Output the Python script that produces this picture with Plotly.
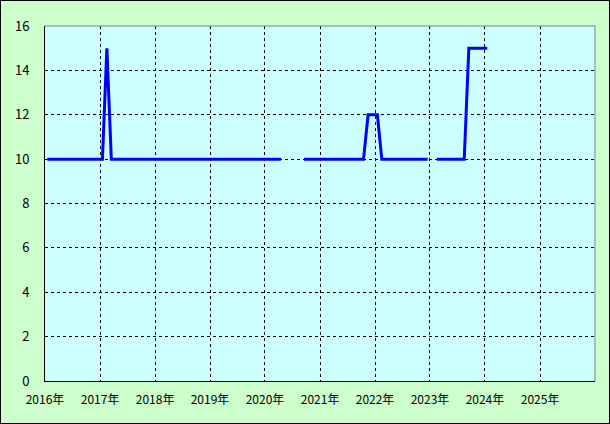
import pandas as pd
import plotly.graph_objects as go

# Monthly observations, Jan 2016 .. Jan 2024
months = pd.date_range("2016-01-01", "2024-01-01", freq="MS")
rate = [
    10, 10, 10, 10, 10, 10, 10, 10, 10, 10, 10, 10,          # 2016
    10, 15, 10, 10, 10, 10, 10, 10, 10, 10, 10, 10,          # 2017
    10, 10, 10, 10, 10, 10, 10, 10, 10, 10, 10, 10,          # 2018
    10, 10, 10, 10, 10, 10, 10, 10, 10, 10, 10, 10,          # 2019
    10, 10, 10, 10, None, None, None, None, 10, 10, 10, 10,  # 2020
    10, 10, 10, 10, 10, 10, 10, 10, 10, 10, 12, 12,          # 2021
    12, 10, 10, 10, 10, 10, 10, 10, 10, 10, 10, 10,          # 2022
    None, 10, 10, 10, 10, 10, 10, 10, 15, 15, 15, 15,        # 2023
    15,                                                      # 2024
]

years = list(range(2016, 2026))
year_ticks = [f"{y}-01-01" for y in years]
year_labels = [f"{y}年" for y in years]
y_ticks = [0, 2, 4, 6, 8, 10, 12, 14, 16]

W, H = 610, 424
ml, mr, mt, mb = 45, 15, 26, 43
pw, ph = W - ml - mr, H - mt - mb

fig = go.Figure()
fig.add_trace(go.Scatter(
    x=months, y=rate, mode="lines",
    xperiod="M1", xperiodalignment="middle",
    line=dict(color="#0000ff", width=3),
    connectgaps=False, hoverinfo="skip",
))

font = dict(family="Noto Sans CJK JP, DejaVu Sans, sans-serif", size=12, color="#000000")

fig.update_layout(
    width=W, height=H,
    margin=dict(l=ml, r=mr, t=mt, b=mb),
    paper_bgcolor="#ccffcc",
    plot_bgcolor="#ccffff",
    showlegend=False,
    font=font,
    xaxis=dict(
        type="date",
        range=["2016-01-01", "2026-01-01"],
        tickmode="array", tickvals=year_ticks, ticktext=year_labels,
        showgrid=True, gridcolor="#000000", gridwidth=1, griddash="3px,3px",
        showline=True, linecolor="#000000", linewidth=1,
        ticks="", ticklabelstandoff=8, zeroline=False,
        tickfont=font,
    ),
    yaxis=dict(
        range=[0, 16],
        tickmode="array", tickvals=y_ticks,
        showgrid=True, gridcolor="#000000", gridwidth=1, griddash="3px,3px",
        showline=True, linecolor="#000000", linewidth=1,
        ticks="", ticklabelstandoff=12, zeroline=False,
        tickfont=dict(family=font["family"], size=13, color="#000000"),
    ),
    shapes=[
        # top and right frame of plot area (gray)
        dict(type="line", xref="paper", yref="paper", x0=0, x1=1, y0=1, y1=1,
             line=dict(color="#808080", width=1), layer="above"),
        dict(type="line", xref="paper", yref="paper", x0=1, x1=1, y0=0, y1=1,
             line=dict(color="#808080", width=1), layer="above"),
        # outer border of the whole chart
        dict(type="rect", xref="paper", yref="paper",
             x0=-ml / pw, x1=1 + mr / pw, y0=-mb / ph, y1=1 + mt / ph,
             line=dict(color="#000000", width=2), layer="above"),
    ],
)

fig.write_html(
    "out.html",
    config={"displayModeBar": False},
    post_script="document.body.style.margin='0';document.body.style.overflow='hidden';",
)
